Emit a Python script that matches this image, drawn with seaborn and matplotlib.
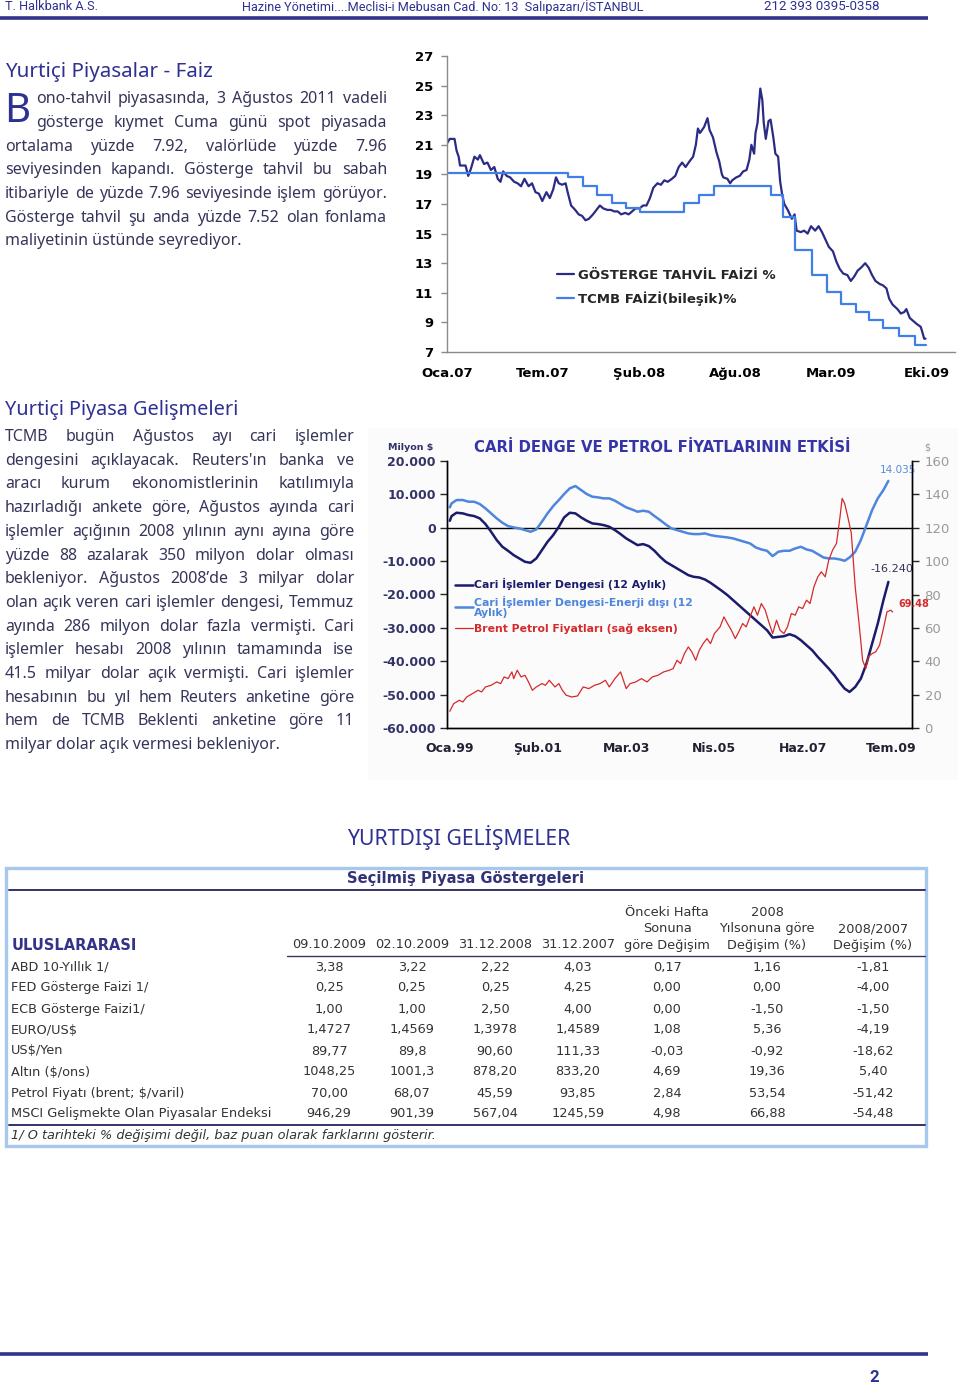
import matplotlib
matplotlib.use("Agg")
import matplotlib.pyplot as plt
import seaborn as sns
from matplotlib.lines import Line2D
from matplotlib.patches import Rectangle
from matplotlib import font_manager as fm

# ---------------- DATA ----------------
# Chart 1: benchmark bond yield vs CBRT rate (x = trading-day index from Jan 2007)
g_day = [0, 4, 6, 11, 14, 17, 19, 25, 27, 31, 35, 40, 45, 48, 54, 59, 64, 69, 74, 78,
         82, 87, 92, 98, 103, 108, 113, 119, 124, 129, 134, 139, 145, 150, 155, 159, 163,
         168, 173, 176, 181, 187, 192, 197, 202, 207, 213, 218, 223, 228, 234, 239, 244,
         249, 254, 260, 265, 270, 275, 281, 286, 291, 296, 301, 307, 312, 317, 322, 328,
         333, 338, 343, 348, 354, 359, 363, 366, 369, 375, 380, 383, 388, 393, 397, 401,
         403, 409, 413, 416, 422, 427, 432, 437, 441, 444, 448, 450, 453, 457, 460, 462,
         465, 469, 472, 476, 479, 483, 486, 489, 492, 497, 503, 507, 510, 516, 521, 526,
         531, 537, 542, 547, 552, 557, 563, 568, 573, 578, 584, 589, 594, 599, 604, 610,
         615, 620, 625, 631, 636, 641, 645, 650, 657, 662, 667, 670, 675, 680, 685, 691,
         693, 696, 698]
g_val = [21.1, 21.4, 21.4, 21.4, 20.6, 20.2, 19.6, 19.6, 19.6, 18.9, 19.4, 20.2, 20.0,
         20.3, 19.7, 19.8, 19.3, 19.5, 18.7, 18.5, 19.2, 18.9, 18.8, 18.5, 18.4, 18.2,
         18.7, 18.2, 18.4, 17.8, 17.7, 17.2, 17.8, 17.4, 18.0, 18.8, 18.4, 18.3, 18.4,
         17.8, 16.9, 16.6, 16.3, 16.2, 15.9, 16.0, 16.3, 16.6, 16.9, 16.7, 16.6, 16.6,
         16.5, 16.5, 16.3, 16.4, 16.3, 16.5, 16.7, 16.7, 16.9, 16.9, 17.4, 18.1, 18.4,
         18.3, 18.6, 18.5, 18.7, 18.9, 19.5, 19.8, 19.5, 19.9, 20.2, 21.0, 22.1, 21.8,
         22.2, 22.8, 22.0, 21.5, 20.5, 19.9, 19.0, 18.8, 18.7, 18.4, 18.6, 18.8, 18.9,
         19.2, 19.3, 20.0, 21.0, 20.4, 21.8, 22.5, 24.8, 24.0, 22.5, 21.4, 22.6, 22.7,
         21.5, 20.4, 20.2, 18.5, 17.6, 17.0, 16.6, 16.0, 16.3, 15.2, 15.1, 15.2, 15.0,
         15.5, 15.2, 15.5, 15.1, 14.6, 14.1, 13.8, 13.1, 12.6, 12.3, 12.2, 11.8, 12.1,
         12.5, 12.7, 13.0, 12.7, 12.2, 11.8, 11.6, 11.5, 11.3, 10.6, 10.2, 9.9, 9.6,
         9.7, 9.9, 9.3, 9.1, 8.9, 8.7, 8.4, 7.9, 7.9]
tcmb_day = [0, 177, 199, 219, 240, 261, 281, 346, 367, 390, 472, 490, 508, 533, 554,
            575, 596, 615, 636, 659, 683, 698]
tcmb_val = [19.1, 18.8, 18.2, 17.6, 17.05, 16.75, 16.45, 17.05, 17.6, 18.25, 17.6, 16.1,
            13.9, 12.2, 11.05, 10.25, 9.7, 9.15, 8.6, 8.05, 7.5, 7.5]
c1_tick_pos = [0, 140, 280, 420, 560, 700]
c1_tick_lab = ["Oca.07", "Tem.07", "Şub.08", "Ağu.08", "Mar.09", "Eki.09"]
c1_yticks = [7, 9, 11, 13, 15, 17, 19, 21, 23, 25, 27]

# Chart 2: current account (million $) and Brent price (x = month index from Jan 1999)
cari_ay = [0, 0.5, 1.9, 3.7, 5.3, 6.9, 8.5, 10.1, 11.7, 13.3, 14.9, 16.5, 18.1, 19.7,
           21.3, 22.9, 24.5, 26.1, 27.7, 29.3, 30.9, 32.4, 34.0, 35.6, 37.2, 38.8, 40.4,
           42.0, 43.6, 45.2, 46.8, 48.4, 50.0, 51.6, 53.2, 54.8, 56.4, 58.0, 59.6, 61.2,
           62.8, 64.4, 66.0, 67.6, 69.1, 70.7, 72.3, 73.9, 75.5, 77.1, 78.7, 80.3, 81.9,
           83.5, 85.1, 86.7, 88.3, 89.9, 91.5, 93.1, 94.7, 96.3, 97.9, 99.5, 101.1, 102.7,
           104.3, 105.9, 107.4, 109.0, 110.6, 111.9, 113.3, 114.9, 116.5, 118.1, 119.7,
           121.3, 122.9, 124.3]
cari_denge = [2100, 3500, 4500, 4300, 3800, 3500, 2800, 1100, -1200, -3700, -5700, -6900,
              -8200, -9200, -10200, -10500, -9200, -6700, -4200, -2200, 300, 3100, 4500,
              4300, 3100, 2100, 1300, 1100, 800, 300, -700, -1900, -3200, -4200, -5200,
              -4900, -5500, -6900, -8700, -10200, -11200, -12200, -13200, -14200, -14700,
              -14900, -15500, -16500, -17700, -18900, -20200, -21700, -23200, -24700,
              -26200, -27700, -29200, -30700, -32900, -32700, -32500, -31900, -32500,
              -33700, -35200, -36700, -38700, -40500, -42200, -44200, -46500, -48200,
              -49200, -47700, -45200, -40700, -34700, -28700, -21700, -16240]
cari_enerji_disi = [6100, 7300, 8300, 8300, 7800, 7800, 7100, 5800, 4300, 2800, 1500, 500,
                    100, -200, -700, -1200, -500, 1800, 4300, 6500, 8300, 10100, 11800,
                    12500, 11300, 10100, 9300, 9100, 8800, 8800, 8100, 7100, 6100, 5500,
                    4800, 5100, 4800, 3500, 2300, 1000, -200, -700, -1200, -1700, -1900,
                    -1900, -1700, -2200, -2500, -2700, -2900, -3200, -3700, -4200, -4700,
                    -5900, -6500, -6900, -8500, -7200, -6900, -6900, -6200, -5700, -6500,
                    -6900, -7900, -8900, -9200, -9200, -9500, -9900, -8900, -7200, -3700,
                    800, 5300, 8800, 11300, 14035]
brent_ay = [0, 1.1, 2.7, 3.7, 4.8, 6.4, 8.0, 9.0, 10.1, 11.7, 13.3, 14.4, 15.4, 16.5,
            17.6, 18.1, 19.1, 20.2, 21.3, 22.3, 23.4, 24.5, 26.1, 27.1, 28.2, 29.8, 30.9,
            31.9, 33.0, 34.6, 36.2, 37.8, 39.4, 41.0, 42.6, 44.1, 45.2, 46.8, 48.4, 50.0,
            51.1, 52.7, 54.3, 55.9, 57.4, 59.0, 60.6, 62.2, 63.3, 64.4, 65.4, 66.5, 67.6,
            68.6, 69.7, 70.7, 71.8, 72.9, 73.9, 75.0, 76.6, 77.7, 78.7, 79.8, 80.9, 81.9,
            83.0, 84.0, 85.1, 86.2, 87.2, 88.3, 89.4, 90.4, 91.5, 92.6, 93.6, 94.7, 95.7,
            96.8, 97.9, 98.9, 100.0, 101.1, 102.1, 103.2, 104.3, 105.3, 106.4, 107.4,
            108.5, 109.6, 110.1, 110.6, 111.2, 111.9, 112.8, 113.8, 114.9, 116.0, 117.0,
            117.9, 118.6, 119.7, 120.7, 121.8, 122.9, 123.9, 125.0, 125.5]
brent = [10, 14.6, 16.6, 15.6, 18.6, 20.6, 22.6, 21.6, 24.6, 25.6, 27.6, 26.6, 30.6, 29.6,
         33.6, 29.6, 34.6, 30.6, 31.6, 27.6, 22.6, 24.6, 26.6, 25.6, 28.6, 24.6, 26.6,
         22.6, 19.6, 18.6, 19.2, 24.6, 23.6, 25.6, 26.6, 28.6, 24.6, 29.6, 33.6, 23.6,
         26.6, 27.6, 29.6, 27.6, 30.6, 31.6, 33.6, 34.6, 35.6, 40.6, 38.6, 44.6, 48.6,
         45.6, 40.6, 46.6, 50.6, 53.6, 50.6, 56.6, 60.6, 66.6, 62.6, 58.6, 53.6, 57.6,
         62.6, 60.6, 66.6, 72.6, 67.6, 74.6, 70.6, 63.6, 56.6, 64.6, 58.6, 56.6, 60.6,
         68.6, 67.6, 72.6, 71.6, 76.6, 74.6, 84.6, 90.6, 93.6, 90.6, 100.6, 106.6, 110.6,
         118.6, 126.6, 137.6, 134.6, 126.6, 116.6, 84.6, 62.6, 40.6, 35.6, 42.6, 44.6,
         45.6, 49.6, 59.6, 69.6, 70.6, 69.5]
c2_tick_pos = [0, 25, 50, 75, 100, 125]
c2_tick_lab = ["Oca.99", "Şub.01", "Mar.03", "Nis.05", "Haz.07", "Tem.09"]
c2_left_ticks = [20000, 10000, 0, -10000, -20000, -30000, -40000, -50000, -60000]
c2_left_lab = ["20.000", "10.000", "0", "-10.000", "-20.000", "-30.000", "-40.000",
               "-50.000", "-60.000"]
c2_right_ticks = [0, 20, 40, 60, 80, 100, 120, 140, 160]
c2_notes = ["14.035", "-16.240", "69.48"]

# Table
tbl_rows = ["ABD 10-Yıllık 1/", "FED Gösterge Faizi 1/", "ECB Gösterge Faizi1/",
            "EURO/US\\$", "US\\$/Yen", "Altın (\\$/ons)", "Petrol Fiyatı (brent; \\$/varil)",
            "MSCI Gelişmekte Olan Piyasalar Endeksi"]
col_0910 = ["3,38", "0,25", "1,00", "1,4727", "89,77", "1048,25", "70,00", "946,29"]
col_0210 = ["3,22", "0,25", "1,00", "1,4569", "89,8", "1001,3", "68,07", "901,39"]
col_3108 = ["2,22", "0,25", "2,50", "1,3978", "90,60", "878,20", "45,59", "567,04"]
col_3107 = ["4,03", "4,25", "4,00", "1,4589", "111,33", "833,20", "93,85", "1245,59"]
col_hafta = ["0,17", "0,00", "0,00", "1,08", "-0,03", "4,69", "2,84", "4,98"]
col_2008 = ["1,16", "0,00", "-1,50", "5,36", "-0,92", "19,36", "53,54", "66,88"]
col_0807 = ["-1,81", "-4,00", "-1,50", "-4,19", "-18,62", "5,40", "-51,42", "-54,48"]
col_heads = [["09.10.2009"], ["02.10.2009"], ["31.12.2008"], ["31.12.2007"],
             ["Önceki Hafta", "Sonuna", "göre Değişim"],
             ["2008", "Yılsonuna göre", "Değişim (%)"],
             ["2008/2007", "Değişim (%)"]]

para1 = ["ono-tahvil piyasasında, 3 Ağustos 2011 vadeli",
         "gösterge kıymet Cuma günü spot piyasada",
         "ortalama yüzde 7.92, valörlüde yüzde 7.96",
         "seviyesinden kapandı. Gösterge tahvil bu sabah",
         "itibariyle de yüzde 7.96 seviyesinde işlem görüyor.",
         "Gösterge tahvil şu anda yüzde 7.52 olan fonlama",
         "maliyetinin üstünde seyrediyor."]
para2 = ["TCMB bugün Ağustos ayı cari işlemler",
         "dengesini açıklayacak. Reuters'ın banka ve",
         "aracı kurum ekonomistlerinin katılımıyla",
         "hazırladığı ankete göre, Ağustos ayında cari",
         "işlemler açığının 2008 yılının aynı ayına göre",
         "yüzde 88 azalarak 350 milyon dolar olması",
         "bekleniyor. Ağustos 2008’de 3 milyar dolar",
         "olan açık veren cari işlemler dengesi, Temmuz",
         "ayında 286  milyon dolar fazla vermişti. Cari",
         "işlemler hesabı 2008 yılının tamamında ise",
         "41.5 milyar dolar açık vermişti. Cari işlemler",
         "hesabının bu yıl hem Reuters anketine göre",
         "hem de TCMB Beklenti anketine göre 11",
         "milyar dolar açık vermesi bekleniyor."]

# ---------------- STYLE ----------------
sns.set_style("white")
plt.rcParams["font.family"] = ["DejaVu Sans"]

NAVY = "#2e3192"
TEXTC = "#35355a"

def has_font(name):
    try:
        fm.findfont(fm.FontProperties(family=name), fallback_to_default=False)
        return True
    except Exception:
        return False

BODYF = "Noto Sans" if has_font("Noto Sans") else "DejaVu Sans"
NARROW = "Liberation Sans Narrow" if has_font("Liberation Sans Narrow") else "Roboto"

W, H = 960, 1387
fig = plt.figure(figsize=(9.6, 13.87), dpi=100)
fig.patch.set_facecolor("white")
renderer = fig.canvas.get_renderer()


def txt(x, y, s, **kw):
    return fig.text(x / W, 1 - y / H, s, **kw)


def hline(x0, x1, y, **kw):
    fig.add_artist(Line2D([x0 / W, x1 / W], [1 - y / H] * 2,
                          transform=fig.transFigure, **kw))


def measure(s, **kw):
    t = fig.text(0, 0, s, **kw)
    w = t.get_window_extent(renderer).width
    t.remove()
    return w


def fit(x0, x1, y, s, fs, **kw):
    w = measure(s, fontsize=fs, **kw)
    fs2 = fs * (x1 - x0) / w
    return txt(x0, y, s, fontsize=fs2, ha="left", **kw)


def justify_line(x0, x1, y, line, do_just, **kw):
    words = line.split()
    if not do_just or len(words) == 1:
        txt(x0, y, line, ha="left", va="baseline", **kw)
        return
    ws = [measure(w, **kw) for w in words]
    gap = (x1 - x0 - sum(ws)) / (len(words) - 1)
    x = x0
    for w, wd in zip(words, ws):
        txt(x, y, w, ha="left", va="baseline", **kw)
        x += wd + gap


# ---------------- HEADER / FOOTER ----------------
hkw = dict(color=NAVY, family=NARROW, va="center")
fit(5, 98, 7, "T. Halkbank A.S.", 9, **hkw)
fit(242, 645, 7, "Hazine Yönetimi....Meclisi-i Mebusan Cad. No: 13  Salıpazarı/İSTANBUL", 9, **hkw)
fit(764, 881, 7, "212 393 0395-0358", 9, **hkw)
hline(0, 928, 17.5, color="#33338a", lw=2.6, solid_capstyle="butt")
hline(0, 928, 1354, color="#33338a", lw=2.6, solid_capstyle="butt")
txt(874, 1377, "2", color=NAVY, fontsize=12, fontweight="bold", family=NARROW,
    ha="center", va="center")

# ---------------- BODY TEXT ----------------
# font size chosen so that the tightest justified line just fills its column
fs_cands = []
for lines, x0s, x1 in ((para1, [36, 36] + [5] * 5, 387), (para2, [5] * 14, 354)):
    for ln, x0 in zip(lines[:-1], x0s):
        wn = measure(ln, fontsize=10, family=BODYF)
        fs_cands.append(10 * (x1 - x0) / wn)
BFS = min(min(fs_cands) * 0.995, 11.5)
bkw = dict(fontsize=BFS, family=BODYF, color=TEXTC)
fit(5, 213, 72, "Yurtiçi Piyasalar - Faiz", 13, color=NAVY, family=BODYF, va="center")
txt(4, 122, "B", fontsize=29, family=BODYF, color=NAVY, ha="left", va="baseline")
ys1 = [98, 122, 146, 169, 193, 217, 240]
for i, (line, yy) in enumerate(zip(para1, ys1)):
    x0 = 36 if i < 2 else 5
    justify_line(x0, 387, yy + 5, line, i < len(para1) - 1, **bkw)

fit(5, 239, 410, "Yurtiçi Piyasa Gelişmeleri", 13, color=NAVY, family=BODYF, va="center")
ys2 = [436, 460, 483, 507, 531, 555, 578, 602, 626, 649, 673, 697, 720, 744]
for i, (line, yy) in enumerate(zip(para2, ys2)):
    justify_line(5, 354, yy + 5, line, i < len(para2) - 1, **bkw)

fit(347, 570, 838, "YURTDIŞI GELİŞMELER", 14, color=NAVY, family=BODYF, va="center")

# ---------------- CHART 1 ----------------
ax1 = fig.add_axes([447 / W, 1 - 352 / H, (955 - 447) / W, (352 - 56) / H])
ax1.set_facecolor("none")
sns.lineplot(x=g_day, y=g_val, ax=ax1, color="#2b2b86", linewidth=1.6,
             label="GÖSTERGE TAHVİL FAİZİ %", estimator=None, sort=False)
sns.lineplot(x=tcmb_day, y=tcmb_val, ax=ax1, color="#3f7fe6", linewidth=1.6,
             drawstyle="steps-post", label="TCMB FAİZİ(bileşik)%", estimator=None,
             sort=False)
ax1.set_xlim(0, 741)
ax1.set_ylim(7, 27)
ax1.set_yticks(c1_yticks)
ax1.set_xticks(c1_tick_pos)
ax1.set_xticklabels(c1_tick_lab)
ax1.set_xlabel("")
ax1.set_ylabel("")
for s in ["top", "right"]:
    ax1.spines[s].set_visible(False)
for s in ["left", "bottom"]:
    ax1.spines[s].set_color("#8a8a8a")
    ax1.spines[s].set_linewidth(1.0)
ax1.tick_params(axis="y", length=4, width=1, color="#8a8a8a", pad=6, labelsize=9.5,
                left=True)
ax1.tick_params(axis="x", length=0, pad=11, labelsize=9.5)
for lab in ax1.get_xticklabels() + ax1.get_yticklabels():
    lab.set_fontweight("bold")
    lab.set_color("black")
leg1 = ax1.legend(loc="upper left", bbox_to_anchor=(550 / W, 1 - 262 / H),
                  bbox_transform=fig.transFigure, frameon=False,
                  prop={"weight": "bold", "size": 9.5}, handlelength=1.3,
                  handletextpad=0.35, labelspacing=0.75, borderpad=0)

# ---------------- CHART 2 ----------------
fig.add_artist(Rectangle((368 / W, 1 - 780 / H), (958 - 368) / W, (780 - 428) / H,
                         transform=fig.transFigure, facecolor="#fbfbfc",
                         edgecolor="none", zorder=0))
ax2 = fig.add_axes([447 / W, 1 - 728 / H, (912 - 447) / W, (728 - 461) / H])
ax2.set_facecolor("none")
ax2r = ax2.twinx()
sns.lineplot(x=cari_ay, y=cari_denge, ax=ax2, color="#1b1b6b", linewidth=1.8,
             estimator=None, sort=False)
sns.lineplot(x=cari_ay, y=cari_enerji_disi, ax=ax2, color="#4d86dc", linewidth=1.8,
             estimator=None, sort=False)
sns.lineplot(x=brent_ay, y=brent, ax=ax2r, color="#d42a2a", linewidth=0.9,
             estimator=None, sort=False)
ax2.axhline(0, color="black", lw=1.0, zorder=1)
ax2.set_xlim(-0.8, 131)
ax2.set_ylim(-60000, 20000)
ax2r.set_ylim(0, 160)
ax2.set_xticks(c2_tick_pos)
ax2.set_xticklabels(c2_tick_lab)
ax2.set_yticks(c2_left_ticks)
ax2.set_yticklabels(c2_left_lab)
ax2r.set_yticks(c2_right_ticks)
for a in (ax2, ax2r):
    a.set_xlabel("")
    a.set_ylabel("")
    a.spines["top"].set_visible(False)
    for s in ["left", "right", "bottom"]:
        a.spines[s].set_color("black")
        a.spines[s].set_linewidth(1.0)
ax2.tick_params(axis="y", left=True, length=5, width=1, direction="out", pad=3,
                labelsize=9, labelcolor="#333366")
ax2.tick_params(axis="x", length=0, pad=10, labelsize=9, labelcolor="#222233")
ax2r.tick_params(axis="y", right=True, length=5, width=1, direction="out", pad=4,
                 labelsize=9.5, labelcolor="#9a9a9a")
for lab in ax2.get_xticklabels() + ax2.get_yticklabels():
    lab.set_fontweight("bold")

hnd = ax2.get_lines()[:2] + ax2r.get_lines()[:1]
labs = ["Cari İşlemler Dengesi (12 Aylık)",
        "Cari İşlemler Dengesi-Enerji dışı (12\nAylık)",
        "Brent Petrol Fiyatları (sağ eksen)"]
leg2 = ax2r.legend(hnd, labs, loc="upper left", bbox_to_anchor=(450 / W, 1 - 573 / H),
                   bbox_transform=fig.transFigure, frameon=False,
                   prop={"weight": "bold", "size": 7.8}, handlelength=1.6,
                   handletextpad=0.15, labelspacing=0.5, borderpad=0)
for t, c in zip(leg2.get_texts(), ["#1b1b6b", "#4d86dc", "#d42a2a"]):
    t.set_color(c)
    t.set_linespacing(1.0)

ax2.annotate(c2_notes[0], xy=(cari_ay[-1], cari_enerji_disi[-1]), xytext=(-6, 8),
             textcoords="offset points", fontsize=7.5, color="#5a8ad8", ha="left",
             va="center")
ax2.annotate(c2_notes[1], xy=(cari_ay[-1], cari_denge[-1]), xytext=(-13, 9),
             textcoords="offset points", fontsize=8, color="#333355", ha="left",
             va="center")
ax2r.annotate(c2_notes[2], xy=(brent_ay[-1], brent[-1]), xytext=(4, 6),
              textcoords="offset points", fontsize=7, color="#d42a2a", ha="left",
              va="center", fontweight="bold")

fit(474, 852, 447, "CARİ DENGE VE PETROL FİYATLARININ ETKİSİ", 10, color="#3535a8",
    va="center", fontweight="bold")
txt(388, 447, "Milyon \\$", fontsize=6.8, color="#333366", fontweight="bold", ha="left",
    va="center")
txt(927, 447, "\\$", fontsize=7, color="#9a9a9a", ha="center", va="center")

# ---------------- TABLE ----------------
fig.add_artist(Rectangle((6 / W, 1 - 1146 / H), (926 - 6) / W, (1146 - 868) / H,
                         transform=fig.transFigure, facecolor="white",
                         edgecolor="#a6c8ec", lw=2.4, zorder=1))
txt(466, 879, "Seçilmiş Piyasa Göstergeleri", fontsize=10.6, fontweight="bold",
    color="#333377", ha="center", va="center", zorder=3)
hline(9, 925, 889.5, color="#333366", lw=1.4, zorder=3)
txt(12, 945, "ULUSLARARASI", fontsize=10.5, fontweight="bold", color="#333388",
    ha="left", va="center", zorder=3)
col_x = [329, 412, 495, 578, 667, 767, 873]
tkw = dict(fontsize=9.3, color="#333333", va="center", zorder=3)
for cx, heads in zip(col_x, col_heads):
    n = len(heads)
    for k, h in enumerate(heads):
        yy = 945 - (n - 1 - k) * 16.5
        txt(cx, yy, h, ha="center", **tkw)
hline(287, 925, 956, color="#333366", lw=1.0, zorder=3)
row_y = [967, 988, 1009, 1030, 1051, 1072, 1093, 1114]
cols = [col_0910, col_0210, col_3108, col_3107, col_hafta, col_2008, col_0807]
for r, (lab, yy) in enumerate(zip(tbl_rows, row_y)):
    txt(11, yy, lab, ha="left", **tkw)
    for cx, col in zip(col_x, cols):
        txt(cx, yy, col[r], ha="center", **tkw)
hline(9, 925, 1125, color="#333366", lw=1.4, zorder=3)
txt(11, 1136, "1/ O tarihteki % değişimi değil, baz puan olarak farklarını gösterir.",
    fontsize=9.3, style="italic", color="#333333", ha="left", va="center", zorder=3)

fig.savefig("out.png", dpi=100, facecolor="white")
